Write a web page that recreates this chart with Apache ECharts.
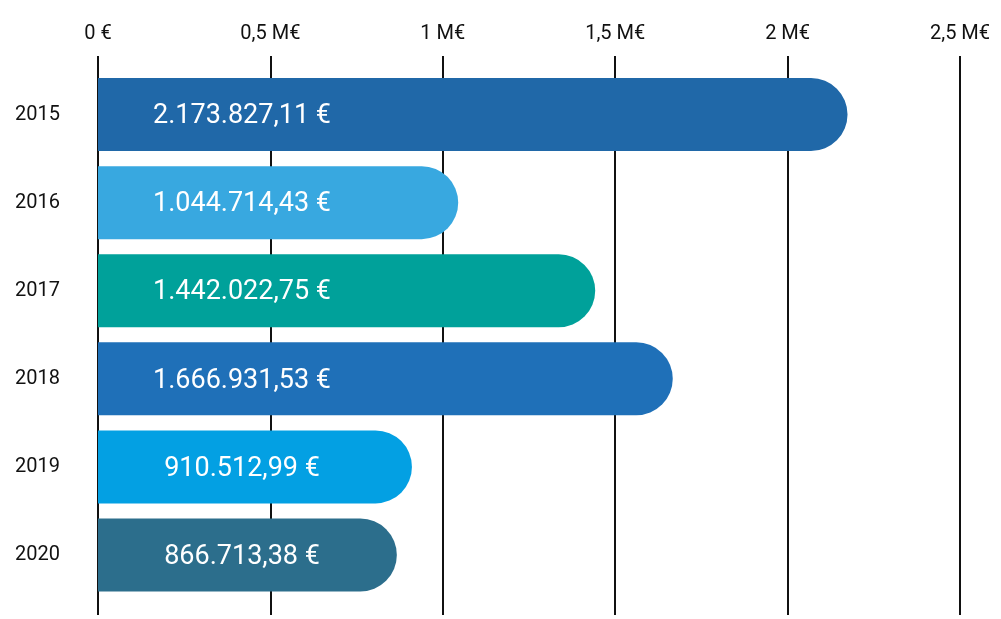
<!DOCTYPE html>
<html>
<head>
<meta charset="utf-8">
<script src="https://cdn.jsdelivr.net/npm/echarts@6/dist/echarts.min.js"></script>
<style>
  html, body { margin: 0; padding: 0; background: #fff; }
  #main { width: 1001px; height: 619px; }
</style>
</head>
<body>
<div id="main"></div>
<script>
// Daten
var years = ['2015', '2016', '2017', '2018', '2019', '2020'];
var amounts = [2173827.11, 1044714.43, 1442022.75, 1666931.53, 910512.99, 866713.38];
var tickValues = [0, 500000, 1000000, 1500000, 2000000, 2500000];

// Farben pro Balken
var barColors = ['#2068a8', '#38a8e0', '#00a19a', '#1f70b8', '#03a0e3', '#2c6e8c'];

// 1234567.89 -> "1.234.567,89 €"
function fmtEuro(v) {
    var parts = v.toFixed(2).split('.');
    var int = parts[0].replace(/\B(?=(\d{3})+(?!\d))/g, '.');
    return int + ',' + parts[1] + ' €';
}

// Achse: 0 -> "0 €", 500000 -> "0,5 M€"
function fmtAxis(v) {
    if (v === 0) return '0 €';
    return String(v / 1e6).replace('.', ',') + ' M€';
}

var myChart = echarts.init(document.getElementById('main'));

var option = {
    animation: false,
    grid: [
        // nur fuer die senkrechten Linien (laenger als die Balkenflaeche)
        { left: 98, right: 41, top: 56, bottom: 4 },
        // Balken
        { left: 98, right: 41, top: 70.5, bottom: 20 }
    ],
    xAxis: [
        {
            gridIndex: 0,
            type: 'value',
            position: 'top',
            min: 0,
            max: 2500000,
            interval: 500000,
            axisLine: { show: false },
            axisTick: { show: false },
            splitLine: { show: true, lineStyle: { color: '#111', width: 2 } },
            axisLabel: {
                margin: 12,
                color: '#111',
                fontFamily: 'Roboto',
                fontSize: 20,
                formatter: fmtAxis,
                customValues: tickValues
            }
        },
        {
            gridIndex: 1,
            type: 'value',
            min: 0,
            max: 2500000,
            interval: 500000,
            show: false
        }
    ],
    yAxis: [
        {
            gridIndex: 0,
            type: 'category',
            data: years,
            show: false
        },
        {
            gridIndex: 1,
            type: 'category',
            data: years,
            inverse: true,
            axisLine: { show: false },
            axisTick: { show: false },
            splitLine: { show: false },
            axisLabel: {
                margin: 38,
                color: '#111',
                fontFamily: 'Roboto',
                fontSize: 20
            }
        }
    ],
    series: [
        {
            type: 'bar',
            xAxisIndex: 1,
            yAxisIndex: 1,
            data: amounts,
            barWidth: 73,
            itemStyle: {
                borderRadius: [0, 36.5, 36.5, 0],
                color: function (p) { return barColors[p.dataIndex]; }
            },
            label: {
                show: true,
                position: [144, '50%'],
                offset: [0, 2],
                align: 'center',
                verticalAlign: 'middle',
                color: '#fff',
                fontFamily: 'Roboto',
                fontSize: 27,
                formatter: function (p) { return fmtEuro(p.value); }
            }
        }
    ]
};

myChart.setOption(option);
</script>
</body>
</html>
